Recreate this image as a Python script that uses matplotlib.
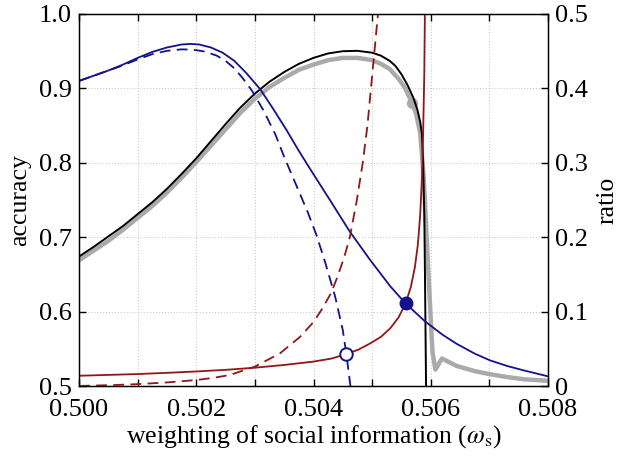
import matplotlib
matplotlib.use("Agg")
import matplotlib.pyplot as plt
from matplotlib.ticker import FixedLocator

plt.rcParams['font.family'] = ['Liberation Serif', 'DejaVu Serif']
plt.rcParams['mathtext.fontset'] = 'stix'

# ---- data ----
# accuracy, model (black)
black_x = [0.50000, 0.50025, 0.50050, 0.50075, 0.50100, 0.50125, 0.50150, 0.50175,
           0.50200, 0.50225, 0.50250, 0.50275, 0.50300, 0.50325, 0.50350, 0.50375,
           0.50400, 0.50425, 0.50450, 0.50475, 0.50500, 0.50515, 0.50530, 0.50540,
           0.50550, 0.50560, 0.50570, 0.50577, 0.50582, 0.50585, 0.50587, 0.50589,
           0.50590, 0.50592]
black_y = [0.674, 0.687, 0.701, 0.715, 0.731, 0.747, 0.765, 0.785,
           0.806, 0.829, 0.852, 0.874, 0.893, 0.909, 0.922, 0.933,
           0.941, 0.947, 0.950, 0.9505, 0.948, 0.944, 0.937, 0.930,
           0.919, 0.905, 0.888, 0.872, 0.855, 0.838, 0.800, 0.730,
           0.660, 0.500]

# accuracy, simulation (grey)
gray_x = [0.50000, 0.50025, 0.50050, 0.50075, 0.50100, 0.50125, 0.50150, 0.50175,
          0.50200, 0.50225, 0.50250, 0.50275, 0.50300, 0.50325, 0.50350, 0.50375,
          0.50400, 0.50425, 0.50450, 0.50475, 0.50500, 0.50515, 0.50530, 0.50545,
          0.50555, 0.50568, 0.50575, 0.50582, 0.50588, 0.50593, 0.50598, 0.50603,
          0.50608, 0.50619, 0.50644, 0.50675, 0.50700, 0.50730, 0.50760, 0.50800]
gray_y = [0.669, 0.682, 0.695, 0.710, 0.726, 0.742, 0.760, 0.780,
          0.801, 0.823, 0.845, 0.867, 0.886, 0.902, 0.914, 0.925,
          0.932, 0.938, 0.941, 0.941, 0.938, 0.933, 0.926, 0.913,
          0.902, 0.881, 0.866, 0.840, 0.780, 0.700, 0.620, 0.545,
          0.522, 0.537, 0.527, 0.520, 0.516, 0.512, 0.509, 0.507]
gray_dot = (0.50568, 0.881)

# ratio, blue solid
blue_x = [0.50000, 0.50025, 0.50050, 0.50075, 0.50100, 0.50125, 0.50150, 0.50175,
          0.50190, 0.50205, 0.50225, 0.50245, 0.50265, 0.50285, 0.50309, 0.50330,
          0.50354, 0.50375, 0.50399, 0.50428, 0.50462, 0.50497, 0.50531, 0.50557,
          0.50590, 0.50620, 0.50644, 0.50675, 0.50701, 0.50730, 0.50758, 0.50800]
blue_y = [0.410, 0.417, 0.424, 0.432, 0.441, 0.449, 0.455, 0.459,
          0.4598, 0.459, 0.455, 0.448, 0.437, 0.421, 0.399, 0.374,
          0.344, 0.316, 0.2858, 0.250, 0.2074, 0.169, 0.134, 0.111,
          0.087, 0.069, 0.0568, 0.0435, 0.0345, 0.027, 0.0211, 0.013]

# ratio, blue dashed
blued_x = [0.50000, 0.50025, 0.50050, 0.50075, 0.50100, 0.50125, 0.50150, 0.50175,
           0.50195, 0.50215, 0.50235, 0.50250, 0.50265, 0.50280, 0.50295, 0.50315,
           0.50335, 0.50351, 0.50370, 0.50390, 0.50405, 0.50420, 0.50437, 0.50450,
           0.50456, 0.50463]
blued_y = [0.410, 0.417, 0.424, 0.431, 0.439, 0.446, 0.4505, 0.4525,
           0.452, 0.4495, 0.444, 0.437, 0.427, 0.413, 0.397, 0.370,
           0.338, 0.306, 0.271, 0.234, 0.203, 0.166, 0.120, 0.075,
           0.043, 0.0]

# ratio, red solid
red_x = [0.50000, 0.50050, 0.50101, 0.50150, 0.50199, 0.50250, 0.50300, 0.50350,
         0.50399, 0.50430, 0.50455, 0.50477, 0.50497, 0.50515, 0.50531, 0.50545,
         0.50557, 0.50566, 0.50573, 0.50578, 0.50582, 0.50585, 0.50587, 0.50589,
         0.50590]
red_y = [0.0138, 0.0149, 0.0161, 0.0177, 0.0195, 0.0217, 0.0246, 0.0283,
         0.0327, 0.0368, 0.0425, 0.049, 0.0574, 0.066, 0.0776, 0.092,
         0.111, 0.133, 0.160, 0.19, 0.23, 0.28, 0.34, 0.42,
         0.50]

# ratio, red dashed
redd_x = [0.50000, 0.50020, 0.50060, 0.50100, 0.50150, 0.50200, 0.50230, 0.50257,
          0.50300, 0.50343, 0.50377, 0.50400, 0.50415, 0.50430, 0.50440, 0.50452,
          0.50462, 0.50474, 0.50484, 0.50492, 0.50498, 0.50504, 0.50510]
redd_y = [0.0, 0.0005, 0.0013, 0.0025, 0.0048, 0.008, 0.011, 0.0148,
          0.026, 0.044, 0.066, 0.086, 0.104, 0.125, 0.145, 0.172,
          0.200, 0.250, 0.300, 0.350, 0.400, 0.450, 0.500]

filled_pt = (0.50557, 0.111)
open_pt = (0.50455, 0.0425)

xticks = [0.500, 0.502, 0.504, 0.506, 0.508]
xminor = [0.501, 0.503, 0.505, 0.507]
xticklabels = ['0.500', '0.502', '0.504', '0.506', '0.508']
acc_ticks = [0.5, 0.6, 0.7, 0.8, 0.9, 1.0]
acc_labels = ['0.5', '0.6', '0.7', '0.8', '0.9', '1.0']
ratio_ticks = [0.0, 0.1, 0.2, 0.3, 0.4, 0.5]
ratio_labels = ['0', '0.1', '0.2', '0.3', '0.4', '0.5']

BLUE = '#12128c'
RED = '#921616'
FS = 19

fig = plt.figure(figsize=(6.22, 4.61), dpi=100)
ax = fig.add_axes([79/622, 1-386/461, (548-79)/622, (386-14)/461])
ax2 = ax.twinx()

ax.set_xlim(0.500, 0.508)
ax.set_ylim(0.5, 1.0)
ax2.set_ylim(0.0, 0.5)

ax.xaxis.set_major_locator(FixedLocator(xticks))
ax.set_xticklabels(xticklabels)
ax.xaxis.set_minor_locator(FixedLocator(xminor))
ax.set_yticks(acc_ticks)
ax.set_yticklabels(acc_labels)
ax2.set_yticks(ratio_ticks)
ax2.set_yticklabels(ratio_labels)

for a in (ax, ax2):
    a.tick_params(which='both', direction='in', length=5, width=1, labelsize=FS, pad=5)
ax.tick_params(which='both', top=True)
ax.tick_params(axis='x', pad=9)

ax.grid(True, which='both', axis='x', linestyle=':', color='#cccccc', linewidth=0.8)
ax.grid(True, which='major', axis='y', linestyle=':', color='#cccccc', linewidth=0.8)
ax.set_axisbelow(True)

ax.plot(gray_x, gray_y, color='#aaaaaa', linewidth=3.2, solid_joinstyle='round', zorder=2)
ax.plot([gray_dot[0]], [gray_dot[1]], 'o', color='#aaaaaa', markersize=7, zorder=2)
ax.plot(black_x, black_y, color='black', linewidth=1.4, zorder=3)

ax2.plot(blued_x, blued_y, color=BLUE, linewidth=1.3, linestyle=(0, (6, 3.5)))
ax2.plot(blue_x, blue_y, color=BLUE, linewidth=1.3)
ax2.plot(redd_x, redd_y, color=RED, linewidth=1.3, linestyle=(0, (6, 3.5)))
ax2.plot(red_x, red_y, color=RED, linewidth=1.3)
ax2.plot([filled_pt[0]], [filled_pt[1]], 'o', color=BLUE, markersize=9, zorder=5)
ax2.plot([open_pt[0]], [open_pt[1]], 'o', markerfacecolor='white', markeredgecolor=BLUE,
         markeredgewidth=1.4, markersize=9, zorder=5)

for s in ax.spines.values():
    s.set_linewidth(1.0)

ax.set_ylabel('accuracy', fontsize=18.5, labelpad=6)
ax2.set_ylabel('ratio', fontsize=18.5, labelpad=6, rotation=90)
ax.set_xlabel(r'weighting of social information ($\omega_{\mathrm{s}}$)', fontsize=18.5, labelpad=2)

fig.savefig('out.png', dpi=100)
